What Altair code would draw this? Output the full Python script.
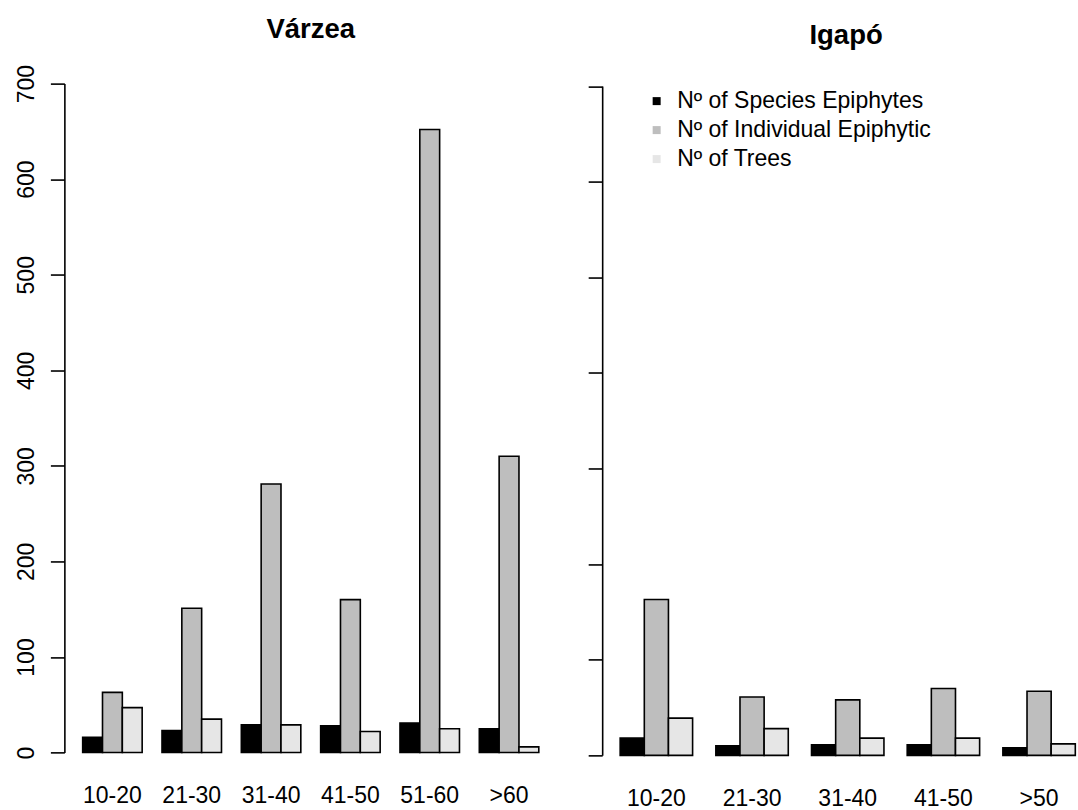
import altair as alt
import pandas as pd

# Legend order and fill colours of the three series
series = ["Nº of Species Epiphytes", "Nº of Individual Epiphytic", "Nº of Trees"]
colors = ["#000000", "#BEBEBE", "#E6E6E6"]

# Várzea: DBH classes and counts
varzea_classes = ["10-20", "21-30", "31-40", "41-50", "51-60", ">60"]
varzea_species = [16, 23, 29, 28, 31, 25]
varzea_individuals = [63, 151, 281, 160, 652, 310]
varzea_trees = [47, 35, 29, 22, 25, 6]

# Igapó: DBH classes and counts
igapo_classes = ["10-20", "21-30", "31-40", "41-50", ">50"]
igapo_species = [18, 10, 11, 11, 8]
igapo_individuals = [163, 61, 58, 70, 67]
igapo_trees = [39, 28, 18, 18, 12]

y_ticks = [0, 100, 200, 300, 400, 500, 600, 700]
FONT = "Liberation Sans"
FS = 23


def long_table(classes, species, individuals, trees):
    rows = []
    for i, c in enumerate(classes):
        for s, vals in zip(series, (species, individuals, trees)):
            rows.append({"cls": c, "series": s, "value": vals[i]})
    return pd.DataFrame(rows)


legend = alt.Legend(
    title=None, orient="none", legendX=581, legendY=6,
    symbolType="square", symbolSize=64, symbolStrokeWidth=0,
    labelFont=FONT, labelFontSize=FS, labelColor="black", labelLimit=0,
    labelOffset=9, rowPadding=5, padding=0,
)


def panel(df, classes, title, width, height, x_range, y_range, inner,
          labels, title_dx, title_dy):
    return alt.Chart(df).mark_bar(stroke="black", strokeWidth=1.6).encode(
        x=alt.X(
            "cls:N", sort=classes,
            scale=alt.Scale(range=x_range, paddingInner=inner, paddingOuter=0),
            axis=alt.Axis(
                title=None, domain=False, ticks=False, labelAngle=0,
                labelFont=FONT, labelFontSize=FS, labelColor="black",
                labelBaseline="alphabetic", labelPadding=50,
            ),
        ),
        xOffset=alt.XOffset(
            "series:N", sort=series,
            scale=alt.Scale(paddingInner=0, paddingOuter=0),
        ),
        y=alt.Y(
            "value:Q",
            scale=alt.Scale(domain=[0, 700], nice=False, range=y_range),
            axis=alt.Axis(
                title=None, grid=False, values=y_ticks,
                domainColor="black", domainWidth=1.6,
                tickColor="black", tickWidth=1.6, tickSize=14,
                labels=labels, labelAngle=270, labelAlign="center",
                labelBaseline="alphabetic", labelPadding=17,
                labelFont=FONT, labelFontSize=FS, labelColor="black",
            ),
        ),
        color=alt.Color(
            "series:N", sort=series,
            scale=alt.Scale(domain=series, range=colors),
            legend=legend,
        ),
    ).properties(
        width=width, height=height,
        title=alt.TitleParams(
            title, font=FONT, fontSize=27.5, fontWeight="bold", color="black",
            anchor="middle", frame="group", baseline="alphabetic",
            dx=title_dx, dy=title_dy,
        ),
    )


left = panel(
    long_table(varzea_classes, varzea_species, varzea_individuals, varzea_trees),
    varzea_classes, "Várzea", 493, 669.2, [18.3, 474.6], [669.2, 0], 0.25,
    True, 0, 5,
)
right = panel(
    long_table(igapo_classes, igapo_species, igapo_individuals, igapo_trees),
    igapo_classes, "Igapó", 476, 672, [18, 473.3], [672, 2.5], 0.243,
    False, 6, -8,
)

chart = alt.hconcat(left, right, spacing=30).resolve_scale(
    x="independent", xOffset="independent", y="independent",
).properties(
    padding={"left": 14.4, "top": 15.5, "right": 0, "bottom": 4},
).configure_view(stroke=None)

chart.save("out.html", embed_options={"renderer": "svg", "actions": False})
